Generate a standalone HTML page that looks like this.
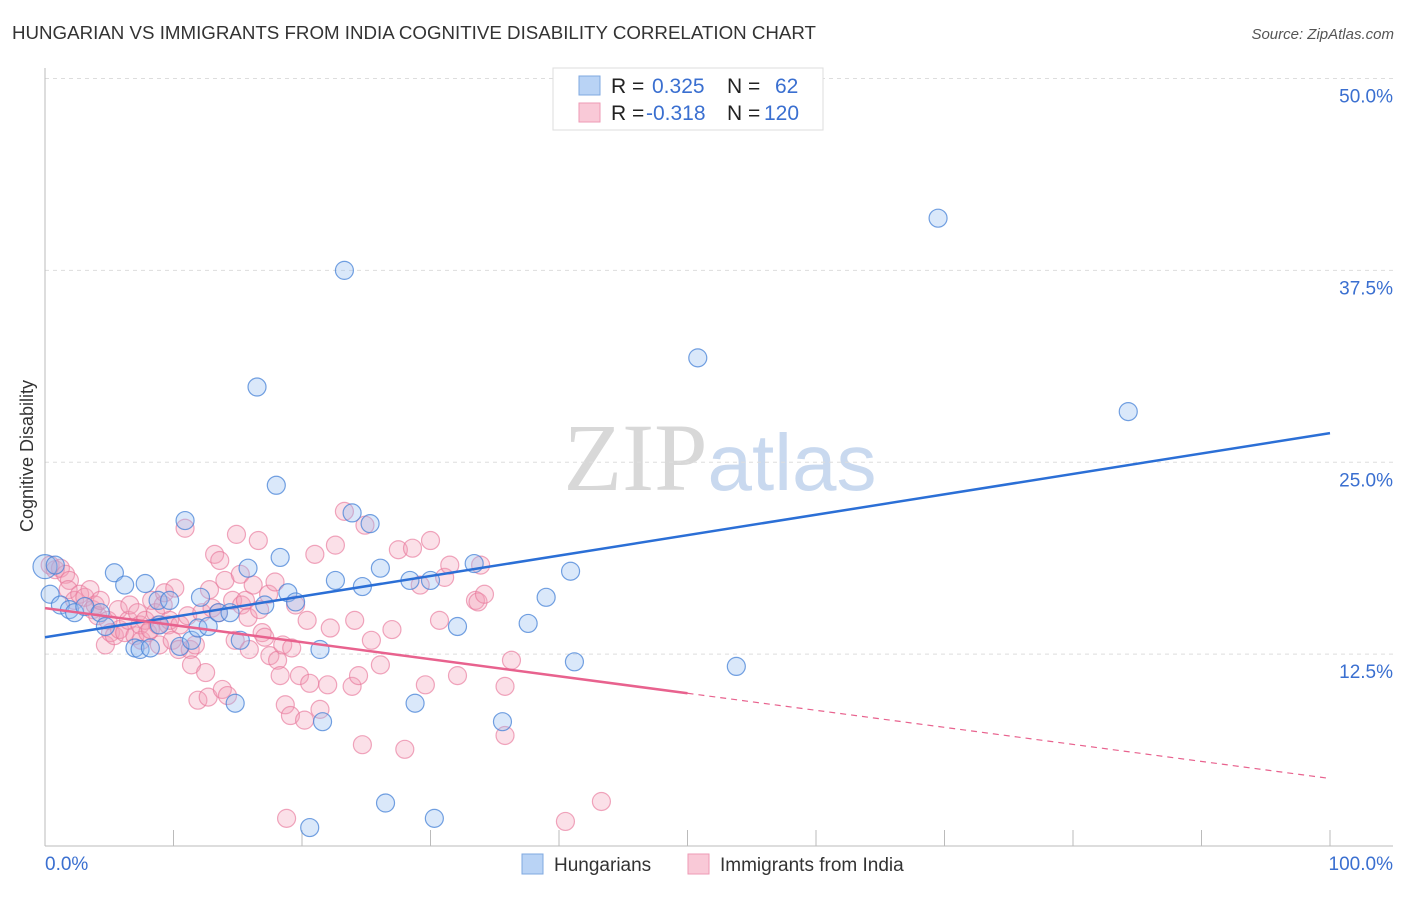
<!DOCTYPE html>
<html><head><meta charset="utf-8"><style>
body{margin:0;background:#fff;width:1406px;height:892px;overflow:hidden;font-family:"Liberation Sans",sans-serif}
</style></head><body>
<svg id="chart" width="1406" height="892" xmlns="http://www.w3.org/2000/svg" font-family="Liberation Sans, sans-serif">
<text x="12" y="39" font-size="18" fill="#333" textLength="804" lengthAdjust="spacingAndGlyphs">HUNGARIAN VS IMMIGRANTS FROM INDIA COGNITIVE DISABILITY CORRELATION CHART</text>
<text x="1394" y="39" font-size="15" fill="#555" font-style="italic" text-anchor="end">Source: ZipAtlas.com</text>
<text x="720" y="490" font-size="96" text-anchor="middle" font-family="Liberation Serif, serif"><tspan fill="#d8d8d8">ZIP</tspan><tspan fill="#c9d9ef" font-family="Liberation Sans, sans-serif" font-size="80">atlas</tspan></text>
<text transform="translate(33,456) rotate(-90)" font-size="18" fill="#333" text-anchor="middle">Cognitive Disability</text>
<g id="grid"></g>
<g id="axes"></g>
<g id="pts"></g>
<g id="lines"></g>
<g>
<rect x="553" y="68" width="270" height="62" fill="#fff" stroke="#ddd"/>
<rect x="579" y="76" width="21" height="19" fill="#b9d3f5" stroke="#7fa8e0"/>
<rect x="579" y="103" width="21" height="19" fill="#f9c9d7" stroke="#ee9ab4"/>
<text x="611" y="93" font-size="21" fill="#222">R = </text><text x="652" y="93" font-size="21" fill="#3a6fd0">0.325</text>
<text x="727" y="93" font-size="21" fill="#222">N = </text><text x="775" y="93" font-size="21" fill="#3a6fd0">62</text>
<text x="611" y="120" font-size="21" fill="#222">R = </text><text x="646" y="120" font-size="21" fill="#3a6fd0">-0.318</text>
<text x="727" y="120" font-size="21" fill="#222">N = </text><text x="764" y="120" font-size="21" fill="#3a6fd0">120</text>
</g>
<g>
<rect x="522" y="854" width="21" height="20" fill="#b9d3f5" stroke="#7fa8e0"/>
<text x="554" y="871" font-size="19" fill="#333">Hungarians</text>
<rect x="688" y="854" width="21" height="20" fill="#f9c9d7" stroke="#ee9ab4"/>
<text x="720" y="871" font-size="19" fill="#333">Immigrants from India</text>
</g>
</svg>
<script>
const blueX=[0,0.4,0.8,1.2,1.9,2.3,3.1,4.3,4.7,5.4,6.2,7.0,7.4,7.8,8.2,8.8,8.9,9.7,10.5,10.9,11.4,11.9,12.1,12.7,13.5,14.4,14.8,15.2,15.8,16.5,17.1,18.0,18.3,18.9,19.5,20.6,21.4,21.6,22.6,23.3,23.9,24.7,25.3,26.1,26.5,28.4,28.8,30.0,30.3,32.1,33.4,35.6,37.6,39.0,40.9,41.2,50.8,53.8,69.5,84.3];
const blueY=[18.2,16.4,18.3,15.7,15.4,15.2,15.6,15.2,14.3,17.8,17.0,12.9,12.8,17.1,12.9,16.0,14.4,16.0,13.0,21.2,13.4,14.2,16.2,14.3,15.2,15.2,9.3,13.4,18.1,29.9,15.7,23.5,18.8,16.5,15.9,1.2,12.8,8.1,17.3,37.5,21.7,16.9,21.0,18.1,2.8,17.3,9.3,17.3,1.8,14.3,18.4,8.1,14.5,16.2,17.9,12.0,31.8,11.7,40.9,28.3];
const pinkX=[0.4,0.8,1.2,1.6,1.9,1.8,2.3,2.7,3.1,3.5,3.7,3.9,4.1,4.3,4.7,4.9,5.1,5.4,5.7,5.8,6.2,6.5,6.6,7.0,7.2,7.4,7.5,7.8,8.0,8.2,8.3,8.6,8.8,8.9,9.2,9.3,9.6,9.7,9.9,10.1,10.4,10.5,10.9,11.1,11.3,11.4,11.7,11.9,12.2,12.5,12.7,12.8,13.0,13.2,13.5,13.6,13.8,14.0,14.2,14.6,14.8,14.9,15.2,15.3,15.6,15.8,15.9,16.2,16.6,16.7,16.9,17.1,17.4,17.5,17.9,18.1,18.3,18.5,18.7,19.1,19.2,19.5,19.8,20.2,20.4,20.6,21.0,21.4,22.0,22.2,22.6,23.3,23.9,24.1,24.4,24.7,24.9,25.4,26.1,27.0,27.5,28.0,28.6,29.2,29.6,30.0,30.7,31.1,31.5,32.1,33.5,33.7,33.9,34.2,35.8,35.8,36.3,40.5,43.3,18.8];
const pinkY=[18.3,18.0,18.1,17.7,17.3,16.7,16.0,16.4,16.2,16.7,15.4,15.7,15.0,16.0,13.1,14.7,13.9,13.7,15.4,14.1,13.9,14.7,15.7,13.7,15.2,14.4,13.4,14.7,13.9,14.1,16.0,15.2,14.4,13.1,15.7,16.5,14.4,14.7,13.4,16.8,12.8,14.4,20.7,15.0,12.8,11.8,13.1,9.5,15.2,11.3,9.7,16.7,15.5,19.0,15.2,18.6,10.2,17.3,9.8,16.0,13.4,20.3,17.7,15.7,16.0,14.9,12.8,17.0,19.9,15.4,13.9,13.6,16.4,12.4,17.2,12.1,11.1,13.1,9.2,8.5,12.9,15.7,11.1,8.2,14.7,10.6,19.0,8.9,10.5,14.2,19.6,21.8,10.4,14.7,11.1,6.6,20.9,13.4,11.8,14.1,19.3,6.3,19.4,17.0,10.5,19.9,14.7,17.5,18.3,11.1,16.0,15.9,18.3,16.4,10.4,7.2,12.1,1.6,2.9,1.8];
const yTicks=[12.5,25.0,37.5,50.0];
const xTickVals=[0,10,20,30,40,50,60,70,80,90,100];
const blueFit=[13.6,26.9];
const pinkFit=[15.5,4.4];
const pinkSolidEnd=50;
const NS="http://www.w3.org/2000/svg";
const X0=45,X1=1330,Y0=846,YS=15.35;
const sx=v=>X0+(X1-X0)*v/100, sy=v=>Y0-v*YS;
function mk(tag,attrs,parent){const e=document.createElementNS(NS,tag);for(const k in attrs)e.setAttribute(k,attrs[k]);parent.appendChild(e);return e;}
const grid=document.getElementById('grid'),axes=document.getElementById('axes'),pts=document.getElementById('pts'),lines=document.getElementById('lines');
yTicks.forEach(t=>{
  const l=mk('line',{x1:X0,x2:1393,y1:sy(t),y2:sy(t),stroke:'#ddd','stroke-dasharray':'4,4'},grid);
  
  
  const tx=mk('text',{x:1393,y:sy(t)+24,'font-size':19,fill:'#3a6fd0','text-anchor':'end'},grid);
  tx.textContent=t.toFixed(1)+'%';
  
  
});
const ax=mk('line',{x1:X0,x2:1393,y1:Y0,y2:Y0,stroke:'#bbb'},axes);


const ay=mk('line',{x1:X0,x2:X0,y1:68,y2:Y0,stroke:'#bbb'},axes);


xTickVals.forEach(t=>{
  const l=mk('line',{x1:sx(t),x2:sx(t),y1:Y0,y2:Y0-16,stroke:'#bbb'},axes);
  
  
});
[[0,'0.0%','start',45],[100,'100.0%','end',1393]].forEach(a=>{
  const tx=mk('text',{x:a[3],y:870,'font-size':19,fill:'#3a6fd0','text-anchor':a[2]},axes);
  tx.textContent=a[1];
  
  
});
pinkX.forEach((x,i)=>{
  const c=mk('circle',{cx:sx(x),cy:sy(pinkY[i]),r:9,fill:'rgba(244,160,185,0.32)',stroke:'rgba(232,120,155,0.65)','stroke-width':1.2},pts);
  
  
});
blueX.forEach((x,i)=>{
  const c=mk('circle',{cx:sx(x),cy:sy(blueY[i]),r:i==0?12:9,fill:'rgba(150,190,240,0.35)',stroke:'rgba(70,130,215,0.75)','stroke-width':1.2},pts);
  
  
});
const bl=mk('line',{x1:sx(0),y1:sy(blueFit[0]),x2:sx(100),y2:sy(blueFit[1]),stroke:'#2b6fd6','stroke-width':2.5},lines);


const pm=pinkFit[0]+(pinkFit[1]-pinkFit[0])*pinkSolidEnd/100;
const pl=mk('line',{x1:sx(0),y1:sy(pinkFit[0]),x2:sx(pinkSolidEnd),y2:sy(pm),stroke:'#e8628e','stroke-width':2.5},lines);


const pd=mk('line',{x1:sx(pinkSolidEnd),y1:sy(pm),x2:sx(100),y2:sy(pinkFit[1]),stroke:'#e8628e','stroke-width':1.2,'stroke-dasharray':'6,5'},lines);


</script>
</body></html>
